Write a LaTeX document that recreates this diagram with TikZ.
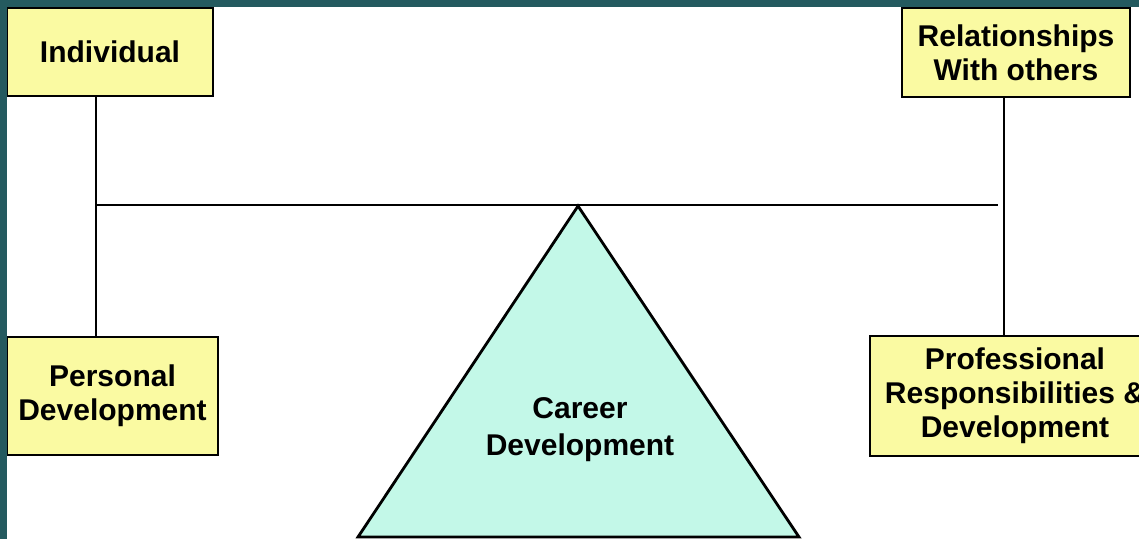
\documentclass[tikz,border=0pt]{standalone}
\usepackage{fontspec}
\setmainfont{Liberation Sans}
\definecolor{frame}{HTML}{245A5F}
\definecolor{boxfill}{HTML}{FAFAA2}
\definecolor{trifill}{HTML}{C3F8E8}
\begin{document}
\begin{tikzpicture}[x=1pt,y=-1pt,
  box/.style={draw=black,line width=2.8pt,fill=boxfill,align=center,
    font=\fontsize{30}{34}\selectfont\bfseries,inner sep=0pt,
    minimum width=#1},
  box/.default=206pt,
  conn/.style={draw=black,line width=2.8pt},
  tri/.style={draw=black,line width=2.8pt,fill=trifill,line join=miter}]
\useasboundingbox (0,0) rectangle (1139,539);
\fill[white] (0,0) rectangle (1139,539);
% frame bands
\fill[frame] (0,0) rectangle (1139,7);
% boxes
\node[box=206pt,minimum height=88pt] (ind) at (110,52) {Individual};
\node[box=228pt,minimum height=89pt] (rel) at (1016,52.5) {Relationships\\With others};
\node[box=211pt,minimum height=118pt] (pers) at (112.5,396) {Personal\\Development};
\node[box=290pt,minimum height=120pt] (prof) at (1015,396) {Professional\\Responsibilities \&\\Development};
% triangle
\coordinate (apex) at (578,206);
\coordinate (bl) at (96,205);
\coordinate (br) at (998,205);
\coordinate (rx) at (1004,0);
\coordinate (lx) at (96,0);
\path[tri] (apex) -- (358,537) -- (799,537) -- cycle;
\node[align=center,font=\fontsize{30}{37}\selectfont\bfseries,inner sep=0pt] (career) at (580,430) {Career\\Development};
% connectors
\draw[conn] (ind.south -| lx) -- (pers.north -| lx);
\draw[conn] (rel.south -| rx) -- (prof.north -| rx);
\draw[conn] (bl) -- (br);
\fill[frame] (0,0) rectangle (7,539);
\end{tikzpicture}
\end{document}
